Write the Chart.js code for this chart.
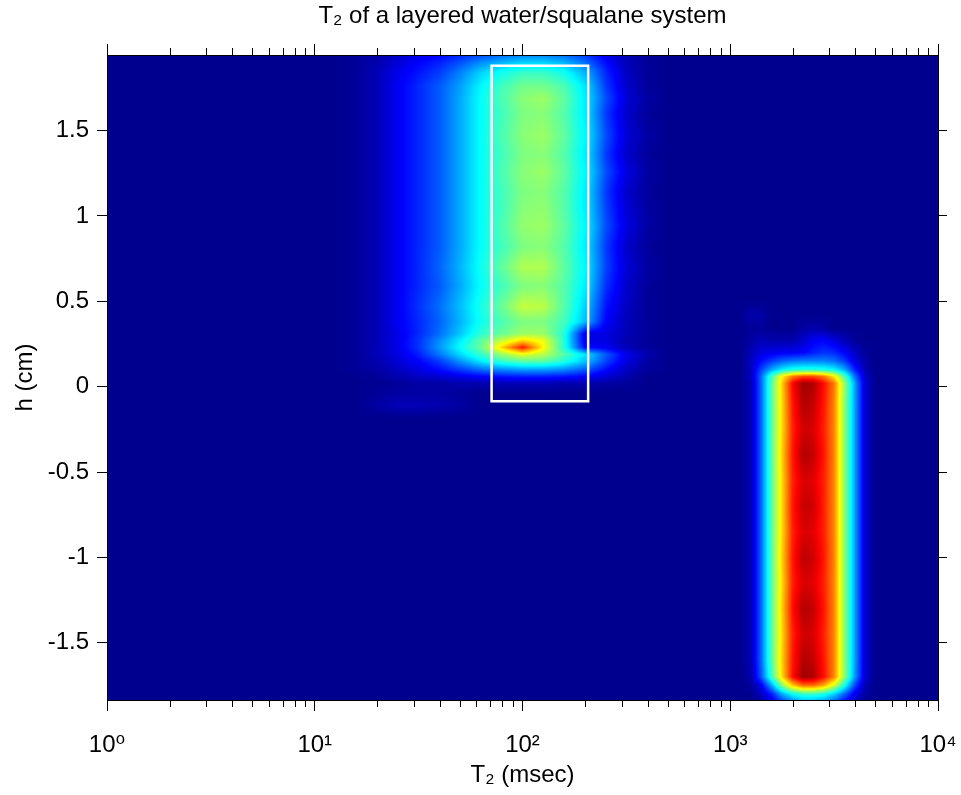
<!DOCTYPE html>
<html>
<head>
<meta charset="utf-8">
<script src="https://cdn.jsdelivr.net/npm/chart.js@4/dist/chart.umd.min.js"></script>
<style>
  html, body { margin: 0; padding: 0; background: #ffffff; }
  #wrap { width: 961px; height: 795px; }
</style>
</head>
<body>
<div id="wrap"><canvas id="chart" width="961" height="795"></canvas></div>
<script>
// ---- text ----
const titleText = 'T\u2082 of a layered water/squalane system';
const xAxisTitle = 'T\u2082 (msec)';
const yAxisTitle = 'h (cm)';

// ---- axes ----
const xRange = [1, 10000];
const yRange = [-1.835, 1.943];
const xTickMantissas = [1, 2, 3, 4, 5, 6, 7, 8, 9];
const xTickDecades = [1, 10, 100, 1000];
const xTickLast = 10000;
const xDecadeLabels = ['10\u2070', '10\u00B9', '10\u00B2', '10\u00B3', '10\u2074'];
const yTickValues = [-1.5, -1, -0.5, 0, 0.5, 1, 1.5];

// ---- selection box (T2 in msec, h in cm) ----
const boxT2 = [71, 207];
const boxH = [-0.085, 1.88];

// ---- water layer: T2 distribution amplitude per height ----
// columns: log10(T2 / msec); rows: h (cm), top to bottom
const waterLogT2 = [1.1, 1.2, 1.3, 1.4, 1.5, 1.6, 1.7, 1.8, 1.9, 2.0, 2.1, 2.2, 2.3, 2.4, 2.5, 2.6, 2.7];
const waterH = [1.96, 1.90, 1.84, 1.76, 1.69, 1.60, 1.47, 1.36, 1.26, 1.14, 1.04, 0.94, 0.82, 0.70,
                0.59, 0.47, 0.38, 0.31, 0.27, 0.23, 0.19, 0.15, 0.10, 0.06, 0.02, -0.04, -0.11, -0.18];
const waterAmp = [
  [0, .01, .02, .05, .08, .10, .13, .16, .19, .21, .21, .19, .15, .08, .03, .01, 0],
  [0, .01, .03, .07, .11, .14, .19, .25, .29, .32, .32, .29, .22, .12, .04, .01, 0],
  [0, .01, .04, .09, .13, .17, .24, .32, .38, .42, .42, .38, .29, .15, .05, .01, 0],
  [0, .01, .04, .10, .15, .20, .27, .36, .43, .48, .48, .44, .34, .17, .06, .01, 0],
  [0, .01, .04, .10, .15, .20, .28, .37, .44, .50, .52, .46, .35, .19, .07, .02, 0],
  [0, .01, .04, .10, .15, .20, .28, .37, .43, .49, .50, .45, .35, .17, .06, .01, 0],
  [0, .01, .04, .10, .15, .20, .28, .37, .44, .50, .52, .46, .36, .19, .07, .02, 0],
  [0, .01, .04, .10, .15, .20, .28, .37, .43, .49, .50, .45, .35, .17, .06, .01, 0],
  [0, .01, .04, .10, .15, .20, .28, .37, .44, .50, .52, .46, .36, .19, .08, .02, 0],
  [0, .01, .04, .10, .15, .20, .28, .37, .43, .49, .50, .45, .35, .17, .06, .01, 0],
  [0, .01, .04, .10, .15, .20, .28, .37, .43, .50, .51, .45, .35, .18, .07, .02, 0],
  [0, .01, .04, .10, .15, .20, .28, .37, .44, .51, .52, .46, .36, .19, .08, .02, 0],
  [0, .01, .04, .10, .15, .20, .28, .37, .43, .49, .50, .45, .35, .17, .06, .01, 0],
  [0, .01, .04, .10, .15, .21, .29, .38, .46, .54, .54, .46, .36, .18, .07, .02, 0],
  [0, .01, .04, .10, .15, .20, .28, .37, .43, .49, .50, .45, .35, .16, .06, .01, 0],
  [0, .01, .04, .10, .16, .22, .30, .39, .47, .56, .55, .45, .32, .13, .05, .01, 0],
  [0, .01, .04, .10, .15, .21, .29, .38, .44, .49, .49, .43, .30, .11, .04, .01, 0],
  [0, .01, .04, .09, .15, .22, .31, .41, .47, .52, .52, .40, .09, .08, .04, .01, 0],
  [0, .01, .04, .09, .16, .25, .35, .46, .56, .66, .60, .40, .09, .08, .03, .01, 0],
  [0, .01, .04, .09, .16, .26, .37, .47, .66, .85, .62, .40, .12, .10, .04, .01, 0],
  [0, .01, .04, .08, .14, .23, .33, .42, .52, .60, .55, .45, .34, .20, .09, .03, 0],
  [0, .01, .03, .07, .11, .17, .26, .35, .42, .46, .46, .40, .31, .18, .08, .02, 0],
  [0, .01, .02, .05, .08, .12, .17, .22, .25, .27, .27, .25, .20, .12, .05, .01, 0],
  [0, 0, .01, .03, .05, .07, .09, .11, .13, .14, .14, .13, .11, .07, .03, 0, 0],
  [0, 0, 0, .01, .02, .02, .03, .03, .04, .04, .04, .03, .03, .02, .01, 0, 0],
  [0, 0, .01, .02, .02, .02, .01, 0, 0, 0, 0, 0, 0, 0, 0, 0, 0],
  [0, 0, .02, .04, .04, .03, .02, 0, 0, 0, 0, 0, 0, 0, 0, 0, 0],
  [0, 0, 0, 0, 0, 0, 0, 0, 0, 0, 0, 0, 0, 0, 0, 0, 0]
];

// ---- squalane layer ----
const squalaneLogT2 = [3.05, 3.10, 3.15, 3.20, 3.25, 3.30, 3.35, 3.40, 3.45, 3.50, 3.55, 3.60, 3.65, 3.70];
const squalaneH = [0.50, 0.42, 0.34, 0.27, 0.20, 0.15, 0.10, 0.06, 0.02, -0.10, -0.25, -0.40, -0.55, -0.70,
                   -0.85, -1.00, -1.15, -1.30, -1.45, -1.60, -1.70, -1.75, -1.80, -1.86];
const squalaneAmp = [
  [0, 0, 0, 0, 0, 0, 0, 0, 0, 0, 0, 0, 0, 0],
  [0, .03, .02, 0, 0, 0, 0, 0, 0, 0, 0, 0, 0, 0],
  [0, .01, .01, 0, 0, 0, .02, .03, .02, 0, 0, 0, 0, 0],
  [0, .02, .04, .03, .03, .03, .06, .10, .11, .08, .04, .01, 0, 0],
  [0, .04, .08, .09, .10, .10, .11, .14, .16, .15, .11, .05, .01, 0],
  [0, .05, .12, .17, .21, .23, .24, .24, .24, .22, .17, .08, .02, 0],
  [0, .05, .18, .28, .35, .39, .40, .40, .39, .36, .28, .14, .03, 0],
  [0, .05, .22, .44, .63, .75, .80, .80, .75, .64, .44, .22, .05, 0],
  [0, .04, .22, .46, .67, .87, .97, .95, .86, .75, .51, .27, .06, 0],
  [0, .04, .22, .46, .66, .85, .95, .93, .85, .74, .50, .27, .06, 0],
  [0, .04, .22, .46, .66, .84, .92, .91, .84, .74, .50, .27, .06, 0],
  [0, .04, .22, .46, .67, .85, .95, .93, .85, .74, .50, .27, .06, 0],
  [0, .04, .22, .46, .66, .84, .91, .90, .84, .74, .50, .27, .06, 0],
  [0, .04, .22, .46, .66, .85, .93, .92, .84, .74, .50, .27, .06, 0],
  [0, .04, .22, .46, .66, .84, .91, .90, .84, .74, .50, .27, .06, 0],
  [0, .04, .22, .46, .67, .85, .94, .92, .85, .74, .50, .27, .06, 0],
  [0, .04, .22, .46, .66, .84, .91, .90, .84, .74, .50, .27, .06, 0],
  [0, .04, .22, .46, .67, .86, .95, .93, .85, .74, .50, .27, .06, 0],
  [0, .04, .22, .46, .66, .84, .92, .91, .84, .74, .50, .27, .06, 0],
  [0, .04, .22, .46, .67, .85, .95, .93, .85, .74, .50, .27, .06, 0],
  [0, .03, .20, .43, .66, .86, .97, .95, .86, .74, .50, .26, .06, 0],
  [0, .01, .10, .28, .50, .67, .76, .76, .70, .57, .38, .18, .03, 0],
  [0, 0, .05, .14, .28, .37, .42, .42, .39, .32, .21, .09, .02, 0],
  [0, 0, .02, .06, .13, .19, .23, .23, .21, .16, .09, .03, 0, 0]
];

// ---- helpers ----
const FONT_FAMILY = '"Liberation Sans", Arial, Helvetica, "DejaVu Sans", sans-serif';
const TEXT_SIZE = 24;

function isDecade(v) {
  const l = Math.log10(v);
  return Math.abs(l - Math.round(l)) < 1e-9;
}

// 64-entry jet colour table, built the way MATLAB builds it
function buildJet(m) {
  const n = Math.ceil(m / 4);
  const u = [];
  for (let i = 1; i <= n; i++) u.push(i / n);
  for (let i = 1; i < n; i++) u.push(1);
  for (let i = n; i >= 1; i--) u.push(i / n);
  const g0 = Math.ceil(n / 2) - (m % 4 === 1 ? 1 : 0);
  const table = Array.from({ length: m }, () => [0, 0, 0]);
  u.forEach((val, k) => {
    const g = g0 + k + 1;
    const r = g + n, b = g - n;
    if (g >= 1 && g <= m) table[g - 1][1] = val;
    if (r >= 1 && r <= m) table[r - 1][0] = val;
    if (b >= 1 && b <= m) table[b - 1][2] = val;
  });
  return table;
}
const JET = buildJet(64);

function jetColor(v) {
  const t = Math.max(0, Math.min(1, v)) * (JET.length - 1);
  const i = Math.min(JET.length - 2, Math.floor(t));
  const f = t - i;
  const a = JET[i], b = JET[i + 1];
  return [
    Math.round(255 * (a[0] + (b[0] - a[0]) * f)),
    Math.round(255 * (a[1] + (b[1] - a[1]) * f)),
    Math.round(255 * (a[2] + (b[2] - a[2]) * f))
  ];
}

// bilinear lookup in a grid whose rows run from high h to low h
function sampleGrid(cols, rows, vals, lx, h) {
  const nc = cols.length, nr = rows.length;
  if (lx <= cols[0] || lx >= cols[nc - 1]) return 0;
  if (h >= rows[0] || h <= rows[nr - 1]) return 0;
  let i = 0;
  while (cols[i + 1] < lx) i++;
  let j = 0;
  while (rows[j + 1] > h) j++;
  const tx = (lx - cols[i]) / (cols[i + 1] - cols[i]);
  const ty = (rows[j] - h) / (rows[j] - rows[j + 1]);
  const a = vals[j][i], b = vals[j][i + 1], c = vals[j + 1][i], d = vals[j + 1][i + 1];
  return (a * (1 - tx) + b * tx) * (1 - ty) + (c * (1 - tx) + d * tx) * ty;
}

const xTickValues = [];
xTickDecades.forEach(d => xTickMantissas.forEach(m => xTickValues.push(m * d)));
xTickValues.push(xTickLast);

// paints the T2 / h intensity map into the plot area, pixel by pixel through the scales
const intensityMap = {
  id: 'intensityMap',
  beforeDraw(chart) {
    const { ctx, chartArea: a, scales } = chart;
    const xs = scales.x, ys = scales.y;
    const w = Math.round(a.right - a.left), h = Math.round(a.bottom - a.top);
    const off = document.createElement('canvas');
    off.width = w; off.height = h;
    const octx = off.getContext('2d');
    const img = octx.createImageData(w, h);
    const logs = new Float64Array(w);
    for (let i = 0; i < w; i++) logs[i] = Math.log10(xs.getValueForPixel(a.left + i + 0.5));
    for (let j = 0; j < h; j++) {
      const hv = ys.getValueForPixel(a.top + j + 0.5);
      for (let i = 0; i < w; i++) {
        const v = sampleGrid(waterLogT2, waterH, waterAmp, logs[i], hv) +
                  sampleGrid(squalaneLogT2, squalaneH, squalaneAmp, logs[i], hv);
        const c = jetColor(v);
        const k = (j * w + i) * 4;
        img.data[k] = c[0]; img.data[k + 1] = c[1]; img.data[k + 2] = c[2]; img.data[k + 3] = 255;
      }
    }
    octx.putImageData(img, 0, 0);
    ctx.drawImage(off, a.left, a.top);
  }
};

// short minor tick marks on both logarithmic axes
const minorTicks = {
  id: 'minorTicks',
  afterDraw(chart) {
    const ctx = chart.ctx;
    ctx.save();
    ctx.strokeStyle = '#000000';
    ctx.lineWidth = 1;
    ['x', 'xTop'].forEach(id => {
      const s = chart.scales[id];
      const bottom = s.position === 'bottom';
      const edge = bottom ? s.top : s.bottom;
      const dir = bottom ? 1 : -1;
      s.ticks.forEach(t => {
        if (isDecade(t.value)) return;
        const px = Math.round(s.getPixelForValue(t.value)) + 0.5;
        ctx.beginPath();
        ctx.moveTo(px, edge);
        ctx.lineTo(px, edge + dir * 7);
        ctx.stroke();
      });
    });
    ctx.restore();
  }
};

const textFont = { family: FONT_FAMILY, size: TEXT_SIZE, weight: 'normal' };
const majorTickColor = c => (c.tick && isDecade(c.tick.value)) ? '#000000' : 'rgba(0,0,0,0)';
const axisBorder = { display: true, color: '#000000', width: 1, z: 1 };

// fixed axis boxes so the plot area sits at the same place every time
const fixHeight = px => s => { s.height = px; s.paddingLeft = 0; s.paddingRight = 0; };
const fixWidth = px => s => { s.width = px; s.paddingTop = 0; s.paddingBottom = 0; };

const boxPoints = [
  { x: boxT2[0], y: boxH[0] }, { x: boxT2[0], y: boxH[1] },
  { x: boxT2[1], y: boxH[1] }, { x: boxT2[1], y: boxH[0] },
  { x: boxT2[0], y: boxH[0] }
];

new Chart(document.getElementById('chart'), {
  type: 'scatter',
  data: {
    datasets: [{
      label: 'window',
      data: boxPoints,
      showLine: true,
      borderColor: '#ffffff',
      borderWidth: 2.5,
      borderJoinStyle: 'miter',
      borderCapStyle: 'square',
      pointRadius: 0,
      fill: false
    }]
  },
  options: {
    responsive: false,
    devicePixelRatio: 1,
    animation: false,
    events: [],
    layout: { padding: 0, autoPadding: false },
    plugins: {
      legend: { display: false },
      tooltip: { enabled: false },
      title: {
        display: true,
        text: titleText,
        color: '#000000',
        font: textFont,
        fullSize: false,
        padding: { top: 2, bottom: 0 }
      }
    },
    scales: {
      x: {
        type: 'logarithmic',
        position: 'bottom',
        min: xRange[0], max: xRange[1],
        afterBuildTicks: s => { s.ticks = xTickValues.map(v => ({ value: v, major: isDecade(v) })); },
        afterFit: fixHeight(95),
        border: axisBorder,
        grid: { drawOnChartArea: false, drawTicks: true, tickLength: 11, tickWidth: 1, tickColor: majorTickColor },
        ticks: {
          autoSkip: false, maxRotation: 0, minRotation: 0, padding: 20, color: '#000000', font: textFont,
          callback: v => isDecade(v) ? xDecadeLabels[Math.round(Math.log10(v))] : ''
        },
        title: { display: true, text: xAxisTitle, color: '#000000', font: textFont, padding: { top: 0, bottom: 5 } }
      },
      xTop: {
        type: 'logarithmic',
        position: 'top',
        min: xRange[0], max: xRange[1],
        afterBuildTicks: s => { s.ticks = xTickValues.map(v => ({ value: v, major: isDecade(v) })); },
        afterFit: fixHeight(55 - (TEXT_SIZE * 1.2 + 2)),
        border: axisBorder,
        grid: { drawOnChartArea: false, drawTicks: true, tickLength: 11, tickWidth: 1, tickColor: majorTickColor },
        ticks: { display: false, autoSkip: false }
      },
      y: {
        type: 'linear',
        position: 'left',
        min: yRange[0], max: yRange[1],
        afterBuildTicks: s => { s.ticks = yTickValues.map(v => ({ value: v })); },
        afterFit: fixWidth(107),
        border: axisBorder,
        grid: { drawOnChartArea: false, drawTicks: true, tickLength: 10, tickWidth: 1, tickColor: '#000000' },
        ticks: { padding: 8, color: '#000000', font: textFont, callback: v => String(v) },
        title: { display: true, text: yAxisTitle, color: '#000000', font: textFont, padding: { top: 11, bottom: 0 } }
      },
      yRight: {
        type: 'linear',
        position: 'right',
        min: yRange[0], max: yRange[1],
        afterBuildTicks: s => { s.ticks = yTickValues.map(v => ({ value: v })); },
        afterFit: fixWidth(23),
        border: axisBorder,
        grid: { drawOnChartArea: false, drawTicks: true, tickLength: 9, tickWidth: 1, tickColor: '#000000' },
        ticks: { display: false }
      }
    }
  },
  plugins: [intensityMap, minorTicks]
});
</script>
</body>
</html>
